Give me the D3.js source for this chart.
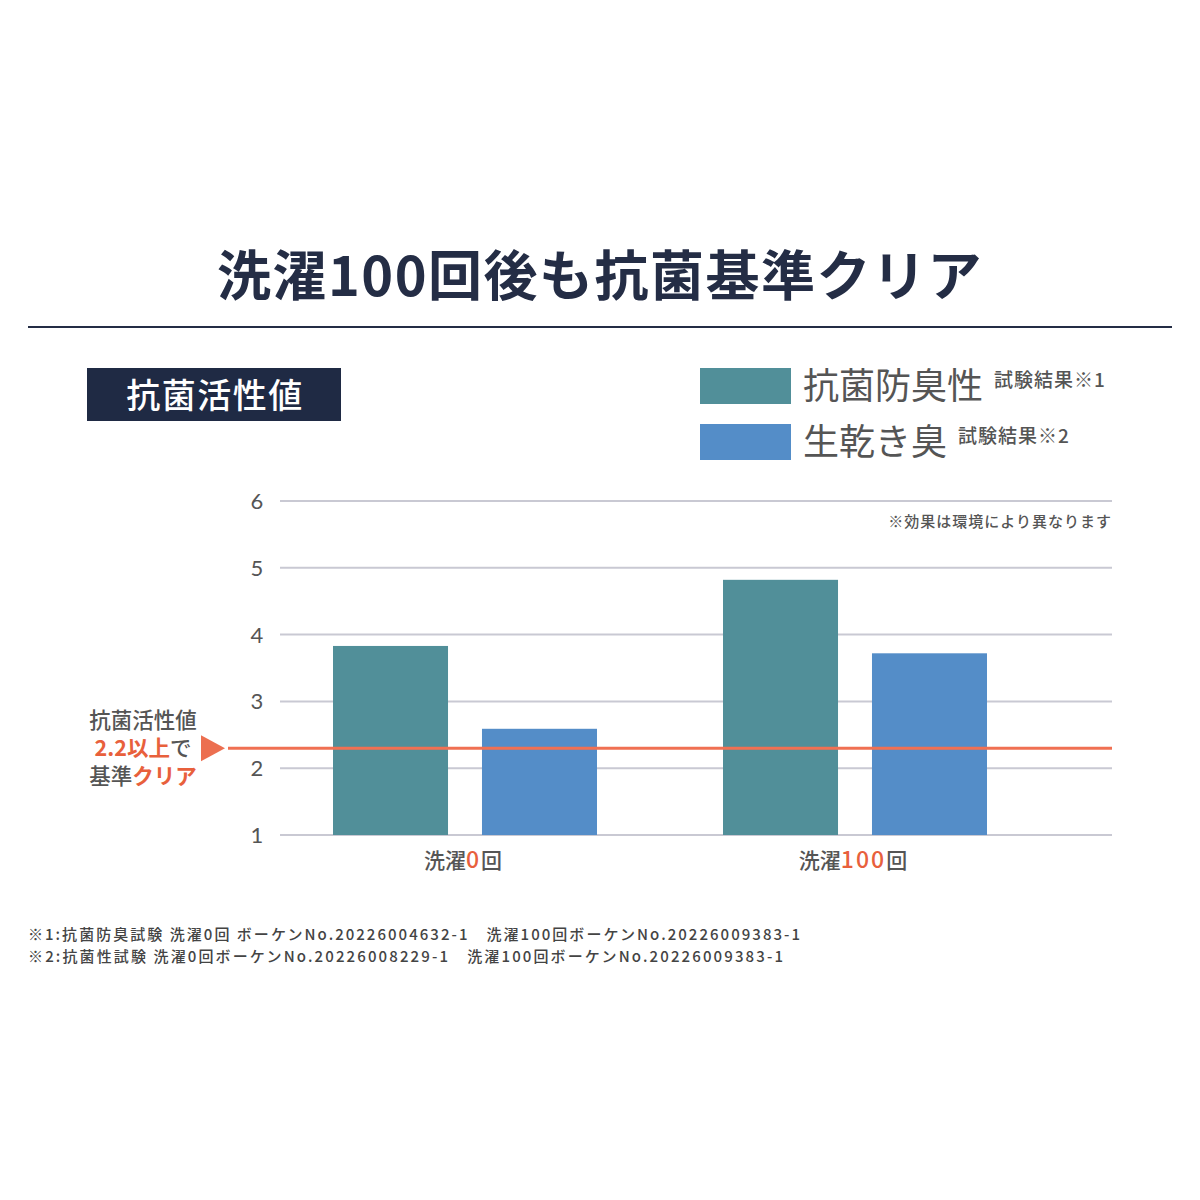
<!DOCTYPE html>
<html><head><meta charset="utf-8">
<script src="https://cdn.jsdelivr.net/npm/d3@7/dist/d3.min.js"></script>
<style>
html,body{margin:0;padding:0;background:#fff;}
svg{display:block;font-family:"Noto Sans CJK JP","Noto Sans",sans-serif;}
</style></head>
<body>
<svg id="chart" width="1200" height="1200"></svg>
<script>
// ---- data ----
const categories = ["洗濯0回", "洗濯100回"];
const categoryPrefix = ["洗濯", "洗濯"];
const categoryHighlight = ["0", "100"];
const categorySuffix = ["回", "回"];
const seriesNames = ["抗菌防臭性", "生乾き臭"];
const seriesNotes = ["試験結果※1", "試験結果※2"];
const seriesColors = ["#518f99", "#548dc8"];
const antibacterialValues = [3.83, 4.82];
const odorValues = [2.59, 3.72];
const yTicks = [1, 2, 3, 4, 5, 6];
const thresholdLineValue = 2.3;
const thresholdLabel = "2.2";
const footnotes = [
  "※1:抗菌防臭試験 洗濯0回 ボーケンNo.20226004632-1　洗濯100回ボーケンNo.20226009383-1",
  "※2:抗菌性試験 洗濯0回ボーケンNo.20226008229-1　洗濯100回ボーケンNo.20226009383-1"
];
const footnoteWidths = [772, 755];

const series = [antibacterialValues, odorValues];
const svg = d3.select("#chart");
const navy = "#242d45", gray = "#555", red = "#e8603c";

// title
svg.append("text").attr("x", 600).attr("y", 296).attr("text-anchor", "middle")
  .attr("font-size", 54).attr("font-weight", 700).attr("fill", navy)
  .attr("letter-spacing", 1.5)
  .text("洗濯100回後も抗菌基準クリア");
svg.append("line").attr("x1", 28).attr("x2", 1172).attr("y1", 327).attr("y2", 327)
  .attr("stroke", navy).attr("stroke-width", 2);

// subtitle box
svg.append("rect").attr("x", 87).attr("y", 368).attr("width", 254).attr("height", 53).attr("fill", "#1f2a44");
svg.append("text").attr("x", 215).attr("y", 408).attr("text-anchor", "middle")
  .attr("font-size", 34).attr("font-weight", 500).attr("fill", "#fff")
  .attr("letter-spacing", 1.5).text("抗菌活性値");

// legend
const legend = svg.append("g");
seriesNames.forEach((name, i) => {
  const y0 = 368 + i * 56;
  legend.append("rect").attr("x", 700).attr("y", y0).attr("width", 91).attr("height", 36).attr("fill", seriesColors[i]);
  const t = legend.append("text").attr("x", 803).attr("y", y0 + 31).attr("fill", gray);
  t.append("tspan").attr("font-size", 36).text(name);
  t.append("tspan").attr("font-size", 19).attr("dx", 11).attr("dy", -12).attr("font-weight", 500)
    .attr("letter-spacing", 1).text(seriesNotes[i]);
});

// scales
const y = d3.scaleLinear().domain([1, 6]).range([835, 501]);
const x0 = d3.scaleBand().domain(categories).range([270, 1050]).padding(0);
const x1 = d3.scaleBand().domain(seriesNames).range([63, 327]).paddingInner(0.228).paddingOuter(0);

// gridlines
svg.append("g").selectAll("line").data(yTicks).join("line")
  .attr("x1", 280).attr("x2", 1112).attr("y1", d => y(d)).attr("y2", d => y(d))
  .attr("stroke", "#c9c9d3").attr("stroke-width", 2);
svg.append("g").selectAll("text").data(yTicks).join("text")
  .attr("x", 257).attr("y", d => y(d) + 8).attr("text-anchor", "middle")
  .attr("font-size", 22).attr("fill", gray).attr("font-family", "Lato, 'Noto Sans', sans-serif").text(d => d);

// note
svg.append("text").attr("x", 1112).attr("y", 527).attr("text-anchor", "end")
  .attr("font-size", 15).attr("font-weight", 500).attr("fill", gray)
  .attr("letter-spacing", 1).text("※効果は環境により異なります");

// bars
const groups = svg.append("g").selectAll("g").data(categories).join("g")
  .attr("transform", d => `translate(${x0(d)},0)`);
groups.selectAll("rect").data((d, ci) => seriesNames.map((s, si) => ({s, si, v: series[si][ci]})))
  .join("rect")
  .attr("x", d => x1(d.s)).attr("width", x1.bandwidth())
  .attr("y", d => y(d.v)).attr("height", d => y(1) - y(d.v))
  .attr("fill", d => seriesColors[d.si]);

// category labels
categories.forEach((c, i) => {
  const t = svg.append("text").attr("x", x0(c) + x0.bandwidth() / 2 - 2).attr("y", 868)
    .attr("text-anchor", "middle").attr("font-size", 21).attr("font-weight", 500).attr("fill", gray);
  t.append("tspan").text(categoryPrefix[i]);
  t.append("tspan").attr("fill", red).attr("font-size", 23).attr("letter-spacing", 2).text(categoryHighlight[i]);
  t.append("tspan").text(categorySuffix[i]);
});

// threshold line
svg.append("line").attr("x1", 228).attr("x2", 1112)
  .attr("y1", y(thresholdLineValue)).attr("y2", y(thresholdLineValue))
  .attr("stroke", "#f07052").attr("stroke-width", 3);
const ty = y(thresholdLineValue);
svg.append("path").attr("d", `M201,${ty - 13} L225,${ty} L201,${ty + 13} Z`).attr("fill", "#ec6f50");

// threshold annotation
svg.append("text").attr("x", 143).attr("y", 728).attr("text-anchor", "middle")
  .attr("font-size", 21.5).attr("font-weight", 500).attr("fill", gray).text("抗菌活性値");
const a2 = svg.append("text").attr("x", 143).attr("y", 756).attr("text-anchor", "middle")
  .attr("font-size", 21.5).attr("font-weight", 700).attr("fill", red);
a2.append("tspan").text(thresholdLabel + "以上");
a2.append("tspan").attr("fill", gray).attr("font-weight", 500).text("で");
const a3 = svg.append("text").attr("x", 143).attr("y", 784).attr("text-anchor", "middle")
  .attr("font-size", 21.5).attr("font-weight", 500).attr("fill", gray);
a3.append("tspan").text("基準");
a3.append("tspan").attr("fill", red).attr("font-weight", 700).text("クリア");

// footnotes
svg.append("g").selectAll("text").data(footnotes).join("text")
  .attr("x", 28).attr("y", (d, i) => 940 + i * 22)
  .attr("font-size", 15).attr("font-weight", 500).attr("fill", "#444")
  .attr("textLength", (d, i) => footnoteWidths[i]).attr("lengthAdjust", "spacing")
  .text(d => d);
</script>
</body></html>
